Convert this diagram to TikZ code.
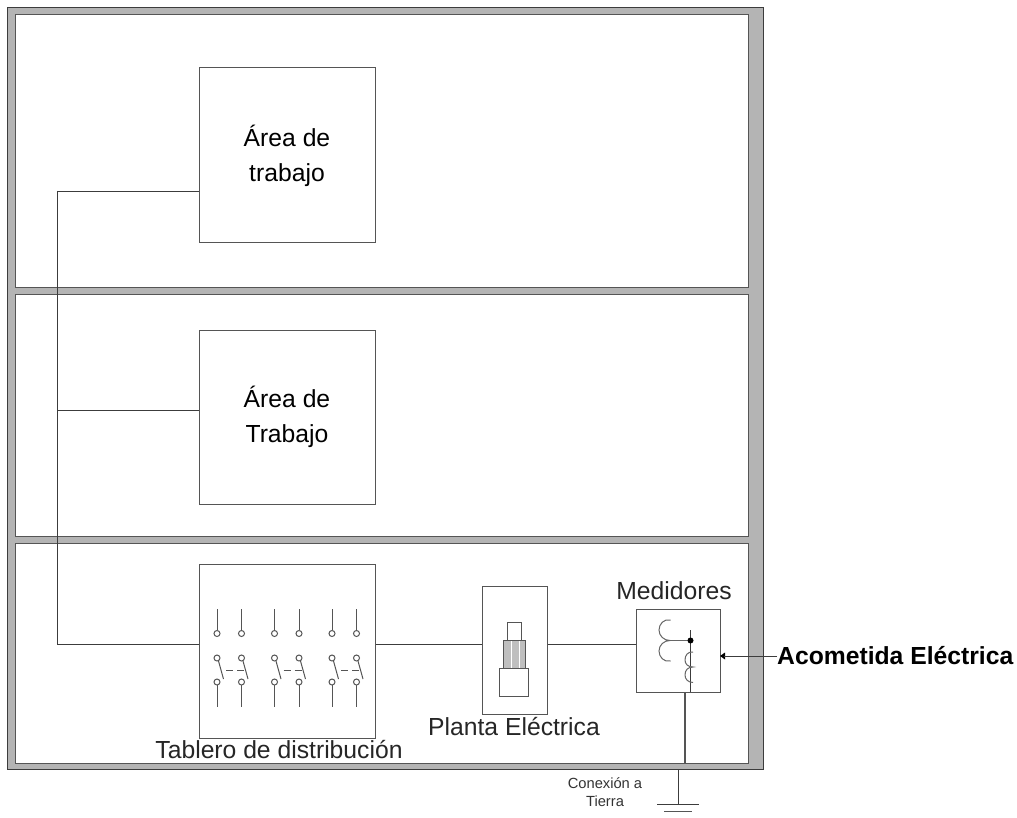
\documentclass[tikz,border=0pt]{standalone}
\usepackage{fontspec}
\setmainfont{Liberation Sans}
\definecolor{wallc}{HTML}{B4B4B4}
\definecolor{linec}{HTML}{3C3C3C}
\definecolor{boxc}{HTML}{555555}
\definecolor{coilc}{HTML}{666666}
\tikzset{
  x=1pt,y=-1pt,
  wire/.style={draw=linec,line width=.9pt},
  wallbox/.style={draw=linec,fill=wallc,line width=1pt},
  room/.style={draw=boxc,fill=white,line width=1pt},
  block/.style={draw=boxc,fill=white,line width=1pt,rectangle,inner sep=0pt,align=center,font=\fontsize{24.7}{35}\selectfont},
  lbl/.style={inner sep=0pt,text=black!85,font=\fontsize{24.7}{28}\selectfont},
  sw/.style={draw=boxc,line width=1pt},
  cont/.style={draw=boxc,fill=white,line width=.9pt},
}
\begin{document}
\begin{tikzpicture}
\useasboundingbox (0,0) rectangle (1017,818);
\fill[white] (0,0) rectangle (1017,818);
% building
\path[wallbox] (7.5,8) rectangle (763,769.5);
\path[room] (15,15) rectangle (748,288);
\path[room] (15,295) rectangle (748,536);
\path[room] (15,543) rectangle (748,763);
% blocks
\node[block,minimum width=176pt,minimum height=175pt] (a1) at (287,155.5) {Área de\\trabajo};
\node[block,minimum width=176pt,minimum height=174pt] (a2) at (287,417) {Área de\\Trabajo};
\node[block,minimum width=176pt,minimum height=174pt] (tab) at (287,651) {};
\node[block,minimum width=64.5pt,minimum height=128pt] (pl) at (514.75,650) {};
\node[block,minimum width=84pt,minimum height=83pt] (med) at (678,650.5) {};
% wiring
\coordinate (j1) at (57,191);
\coordinate (j2) at (57,410);
\coordinate (j3) at (57,644);
\draw[wire] (j1) -- (j3);
\draw[wire] (j1) -- (j1 -| a1.west);
\draw[wire] (j2) -- (j2 -| a2.west);
\draw[wire] (j3) -- (j3 -| tab.west);
\coordinate (t1) at (tab.east |- j3);
\coordinate (p1) at (pl.west |- j3);
\coordinate (p2) at (pl.east |- j3);
\coordinate (m1) at (med.west |- j3);
\draw[wire] (t1) -- (p1);
\draw[wire] (p2) -- (m1);
% switches
\foreach \g in {217,274.5,332}{
  \foreach \d in {0,24.5}{
    \draw[sw] (\g+\d,609) -- (\g+\d,630);
    \draw[sw] (\g+\d,633.5) circle (3pt);
    \draw[sw] (\g+\d,658) circle (3pt);
    \draw[sw] (\g+\d,682) circle (3pt);
    \draw[sw] (\g+\d,685) -- (\g+\d,706.5);
    \draw[sw] (\g+\d+1.5,661) -- (\g+\d+6.5,679);
  }
  \draw[sw,dash pattern=on 7pt off 4pt] (\g+9,670) -- (\g+28,670);
}
% generator
\draw[cont] (507,622.5) rectangle (521.5,640.5);
\draw[cont,fill=wallc!85!white] (503.5,640.5) rectangle (525,668);
\draw[white,line width=.7pt] (511,641) -- (511,667.5) (519,641) -- (519,667.5);
\draw[cont] (499.5,668) rectangle (528,696);
% meter
\draw[coilc,line width=1pt] (670.5,620) .. controls (664,618.5) and (659,624) .. (659,630) .. controls (659,636) and (664,640.5) .. (670,640.5)
  .. controls (664,640.5) and (659,645) .. (659,651) .. controls (659,657) and (664,662.5) .. (670.5,661);
\coordinate (tap) at (690.5,640.5);
\draw[coilc,line width=1pt] (670,640.5) -- (tap);
\draw[linec,line width=1pt] (690.5,630) -- (690.5 ,692);
\fill[black] (tap) circle (3pt);
\draw[coilc,line width=1pt] (693,652) .. controls (688,651.5) and (685,655) .. (685,660) .. controls (685,664) and (688,667) .. (693,667)
  .. controls (688,667) and (685,670) .. (685,675) .. controls (685,679) and (688,682.5) .. (693,682.5);
% labels
\node[lbl,anchor=base] (tt) at (279,758) {Tablero de distribución};
\node[lbl,anchor=base] (pt) at (514,735) {Planta Eléctrica};
\node[lbl,anchor=base] (mt) at (674,599) {Medidores};
\node[inner sep=0pt,anchor=west,font=\bfseries\fontsize{24.7}{28}\selectfont] (ac) at (777,656) {Acometida Eléctrica};
\node[inner sep=0pt,align=center,text=black!80,font=\fontsize{14.7}{17.5}\selectfont] (ct) at (605,792) {Conexión a\\Tierra};
% service arrow
\fill[black] (720,656) -- (725,652.5) -- (725,659.5) -- cycle;
\draw[linec,line width=1pt] (ac.west) -- (724,656);
% ground
\coordinate (g0) at (685,692);
\coordinate (g1) at (685,763);
\draw[wire,draw=boxc,line width=1.2pt] (g0) -- (g1);
\coordinate (g2) at (678,769.5);
\coordinate (g3) at (678,804);
\draw[linec,line width=1pt] (g2) -- (g3);
\draw[linec,line width=1pt] (657,804) -- (699,804);
\draw[boxc,line width=1pt] (664,811) -- (692,811);
\end{tikzpicture}
\end{document}
